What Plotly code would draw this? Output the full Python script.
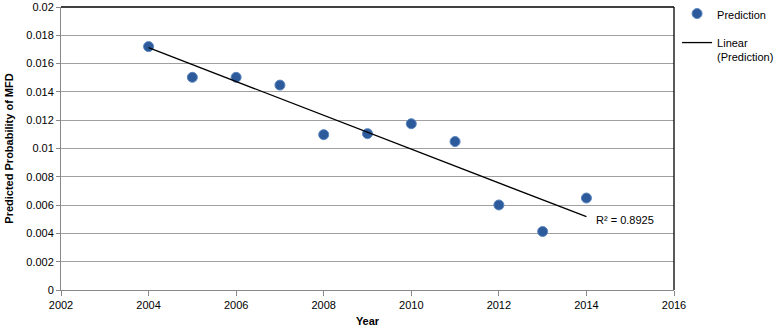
import numpy as np
import plotly.graph_objects as go

years = [2004, 2005, 2006, 2007, 2008, 2009, 2010, 2011, 2012, 2013, 2014]
prediction = [0.0172, 0.01503, 0.01503, 0.01448, 0.01098, 0.01105, 0.01175, 0.01049, 0.00601, 0.00413, 0.0065]
r2_label = "R² = 0.8925"
x_ticks = [2002, 2004, 2006, 2008, 2010, 2012, 2014, 2016]
y_ticks = [0, 0.002, 0.004, 0.006, 0.008, 0.01, 0.012, 0.014, 0.016, 0.018, 0.02]

slope, intercept = np.polyfit(years, prediction, 1)
trend_x = [years[0], years[-1]]
trend_y = [slope * x + intercept for x in trend_x]

FONT = "Liberation Sans, Arial, sans-serif"

fig = go.Figure()
fig.add_trace(go.Scatter(
    x=years, y=prediction, mode="markers", name="Prediction", legendgroup="a",
    marker=dict(size=10, color="#2C5A9A", line=dict(color="#5A86C0", width=1)),
))
fig.add_trace(go.Scatter(
    x=trend_x, y=trend_y, mode="lines", name="Linear<br>(Prediction)", legendgroup="b",
    line=dict(color="black", width=1.3),
))

fig.add_annotation(x=trend_x[-1], y=trend_y[-1], text=r2_label, showarrow=False,
                   xanchor="left", yanchor="middle", xshift=8, yshift=-3,
                   font=dict(family=FONT, size=11, color="black"))

# top and right border of the plot area
fig.add_shape(type="line", xref="paper", yref="paper", x0=0, x1=1, y0=1, y1=1,
              line=dict(color="black", width=1.3))
fig.add_shape(type="line", xref="paper", yref="paper", x0=1, x1=1, y0=0, y1=1,
              line=dict(color="black", width=1.3))

fig.update_layout(
    width=776, height=328,
    margin=dict(l=61, r=102, t=7, b=38, autoexpand=False),
    paper_bgcolor="white", plot_bgcolor="white",
    font=dict(family=FONT, size=11, color="black"),
    showlegend=True,
    legend=dict(x=1.005, y=1.025, xanchor="left", yanchor="top", valign="top",
                font=dict(family=FONT, size=11), tracegroupgap=10,
                itemwidth=30, bgcolor="rgba(0,0,0,0)"),
    xaxis=dict(range=[2002, 2016], tickvals=x_ticks, ticks="outside", ticklen=5,
               tickcolor="#888", showline=True, linecolor="#888", linewidth=1,
               showgrid=False, zeroline=False, automargin=False,
               ticklabeloverflow="allow",
               title=dict(text="<b>Year</b>", font=dict(size=11), standoff=7)),
    yaxis=dict(range=[0, 0.02], tickvals=y_ticks, ticks="outside", ticklen=4,
               tickcolor="#888", showline=True, linecolor="#888", linewidth=1,
               showgrid=True, gridcolor="#a0a0a0", gridwidth=1, zeroline=False,
               automargin=False, ticklabeloverflow="allow",
               title=dict(text="<b>Predicted Probability of MFD</b>", font=dict(size=11), standoff=10)),
)

fig.write_html("out.html", config={"displayModeBar": False},
               post_script="document.body.style.margin='0';")
